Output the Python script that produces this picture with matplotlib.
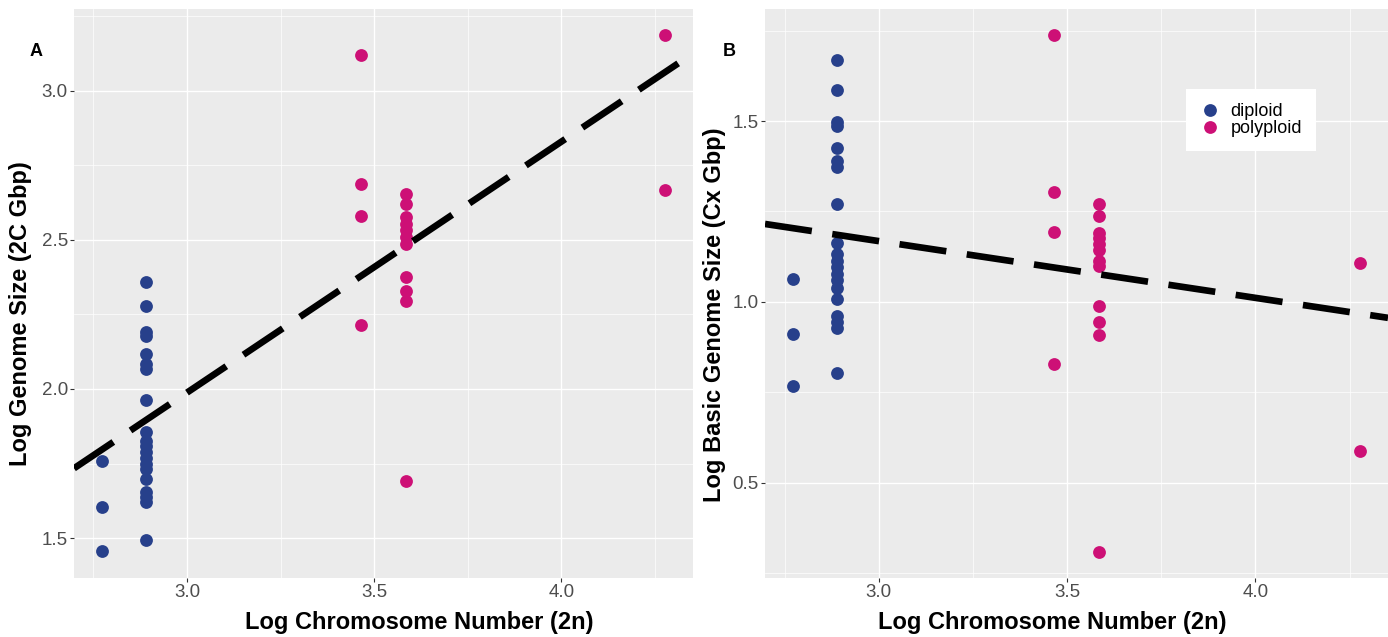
import matplotlib
matplotlib.use("Agg")
import matplotlib.pyplot as plt
from matplotlib.lines import Line2D
import numpy as np

plt.rcParams['font.family'] = ['Liberation Sans', 'DejaVu Sans']

# ---------------- data ----------------
# Panel A: Log Genome Size (2C Gbp) vs Log Chromosome Number (2n)
a_dip_x = [2.773] * 3 + [2.890] * 20
a_dip_y = [1.757, 1.605, 1.456,
           2.360, 2.279, 2.192, 2.177, 2.117, 2.084, 2.066, 1.963, 1.855, 1.825,
           1.810, 1.790, 1.768, 1.749, 1.731, 1.699, 1.654, 1.638, 1.620, 1.495]
a_pol_x = [3.466] * 4 + [3.584] * 11 + [4.277] * 2
a_pol_y = [3.120, 2.688, 2.579, 2.214,
           2.654, 2.621, 2.576, 2.554, 2.532, 2.509, 2.487, 2.374, 2.329, 2.294, 1.692,
           3.187, 2.666]
a_fit = (-0.535, 0.841)   # intercept, slope of dashed fit line

# Panel B: Log Basic Genome Size (Cx Gbp) vs Log Chromosome Number (2n)
b_dip_x = [2.773] * 3 + [2.890] * 20
b_dip_y = [1.064, 0.912, 0.768,
           1.668, 1.586, 1.498, 1.485, 1.426, 1.390, 1.373, 1.272, 1.164, 1.132,
           1.113, 1.095, 1.076, 1.060, 1.037, 1.007, 0.961, 0.943, 0.927, 0.802]
b_pol_x = [3.466] * 4 + [3.584] * 12 + [4.277] * 2
b_pol_y = [1.738, 1.305, 1.193, 0.829,
           1.270, 1.238, 1.191, 1.176, 1.159, 1.144, 1.113, 1.100, 0.989, 0.943, 0.908, 0.309,
           1.108, 0.588]
b_fit = (1.639, -0.157)

groups = ['diploid', 'polyploid']
colors = {'diploid': '#27408B', 'polyploid': '#CD1076'}

x_label = 'Log Chromosome Number (2n)'
a_ylabel = 'Log Genome Size (2C Gbp)'
b_ylabel = 'Log Basic Genome Size (Cx Gbp)'
x_ticks = [3.0, 3.5, 4.0]
a_yticks = [1.5, 2.0, 2.5, 3.0]
b_yticks = [0.5, 1.0, 1.5]

# ---------------- figure ----------------
W, H = 1388, 637
fig = plt.figure(figsize=(W / 100, H / 100), dpi=100)


def px_axes(l, t, r, b):
    return fig.add_axes([l / W, 1 - b / H, (r - l) / W, (b - t) / H])


def style(ax, xlim, ylim, xt, yt):
    ax.set_facecolor('#EBEBEB')
    for s in ax.spines.values():
        s.set_visible(False)
    ax.set_xlim(*xlim)
    ax.set_ylim(*ylim)
    ax.set_xticks(xt)
    ax.set_yticks(yt)
    ax.set_xticklabels([f'{v:.1f}' for v in xt])
    ax.set_yticklabels([f'{v:.1f}' for v in yt])
    xm = [v + 0.25 for v in [xt[0] - 0.5] + xt]
    ym = [v + 0.25 for v in [yt[0] - 0.5] + yt]
    ax.set_xticks([v for v in xm if xlim[0] < v < xlim[1]], minor=True)
    ax.set_yticks([v for v in ym if ylim[0] < v < ylim[1]], minor=True)
    ax.grid(which='major', color='white', lw=1.0)
    ax.grid(which='minor', color='white', lw=0.5)
    ax.set_axisbelow(True)
    ax.tick_params(which='major', length=2.9, width=0.8, color='#333333',
                   labelsize=13.5, labelcolor='#4D4D4D', pad=1.5)
    ax.tick_params(which='minor', length=0)


xlim = (2.698, 4.352)

axA = px_axes(74, 9, 693, 577.5)
style(axA, xlim, (1.368, 3.274), x_ticks, a_yticks)
axB = px_axes(765, 9, 1388, 577.5)
style(axB, xlim, (0.2375, 1.81), x_ticks, b_yticks)

for ax, dx, dy, px_, py, fit in [(axA, a_dip_x, a_dip_y, a_pol_x, a_pol_y, a_fit),
                                  (axB, b_dip_x, b_dip_y, b_pol_x, b_pol_y, b_fit)]:
    ax.scatter(dx, dy, s=85, color=colors['diploid'], linewidths=0, zorder=3)
    ax.scatter(px_, py, s=85, color=colors['polyploid'], linewidths=0, zorder=3)
    xx = np.array(ax.get_xlim())
    ax.plot(xx, fit[0] + fit[1] * xx, color='black', lw=4.8,
            linestyle=(0, (7.1, 3.1)), zorder=4)
    ax.set_xlim(*xlim)

handles = [Line2D([], [], marker='o', ls='', markersize=9.2, markeredgewidth=0,
                  color=colors[g]) for g in groups]
leg = axB.legend(handles, groups, loc='center',
                 bbox_to_anchor=((1251 - 765) / 623, 1 - (120 - 9) / 568.5),
                 fontsize=13, frameon=True, fancybox=False, framealpha=1,
                 facecolor='white', edgecolor='none', borderpad=0.75,
                 labelspacing=0.0, handlelength=1.16, handletextpad=0.53,
                 borderaxespad=0)

fig.text(36 / W, 1 - 52 / H, 'A', fontsize=13, weight='bold', ha='center', va='center')
fig.text(729 / W, 1 - 52 / H, 'B', fontsize=13, weight='bold', ha='center', va='center')

fig.text(419 / W, 1 - 622 / H, x_label, fontsize=17, weight='bold', ha='center', va='center')
fig.text(1052 / W, 1 - 622 / H, x_label, fontsize=17, weight='bold', ha='center', va='center')
fig.text(21 / W, 1 - 314 / H, a_ylabel, fontsize=17, weight='bold', rotation=90,
         ha='center', va='center')
fig.text(715 / W, 1 - 315 / H, b_ylabel, fontsize=17, weight='bold', rotation=90,
         ha='center', va='center')

fig.savefig('out.png', dpi=100)
